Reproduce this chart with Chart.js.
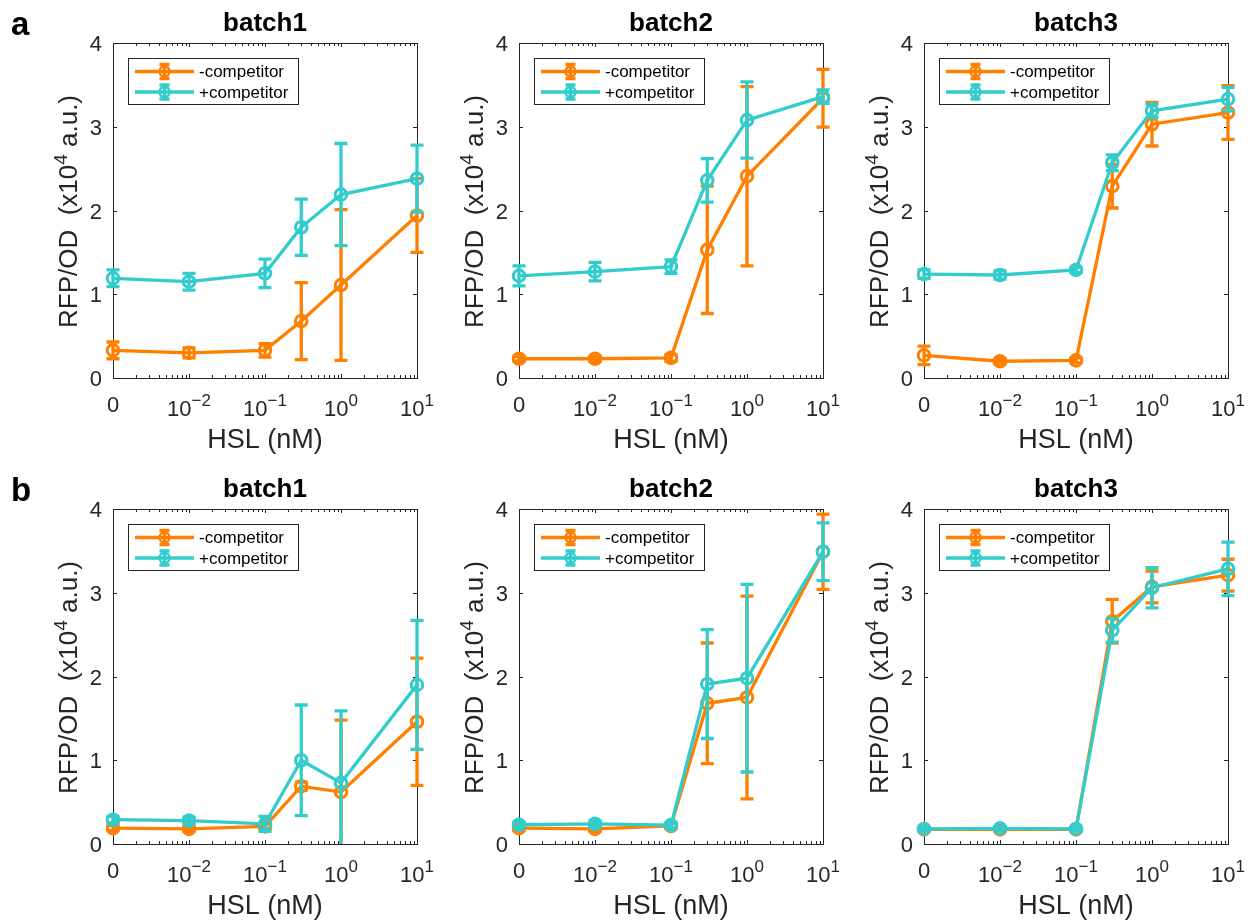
<!DOCTYPE html>
<html><head><meta charset="utf-8">
<script src="https://cdn.jsdelivr.net/npm/chart.js@4.4.1/dist/chart.umd.min.js"></script>
<style>
html,body{margin:0;padding:0;background:#fff;}
#wrap{position:relative;width:1248px;height:921px;overflow:hidden;background:#fff;}
#wrap canvas{position:absolute;}
</style></head><body><div id="wrap"></div>
<script>
// ---------- data ----------
const hsl = [0, 0.01, 0.1, 0.3, 1, 10];          // HSL concentration (nM); 0 is drawn at the 1e-3 slot
const xTickValues = [0, 0.01, 0.1, 1, 10];
const xTickBase = ['0', '10', '10', '10', '10'];
const xTickExp = ['', '\u22122', '\u22121', '0', '1'];
const yTickValues = [0, 1, 2, 3, 4];
const seriesNames = ['-competitor', '+competitor'];
const panelTitles = ['batch1', 'batch2', 'batch3'];
const panelLetters = ['a', 'b'];

// row a
const a1Minus = [0.33, 0.30, 0.33, 0.68, 1.11, 1.94];
const a1MinusErr = [0.10, 0.06, 0.08, 0.46, 0.90, 0.44];
const a1Plus = [1.19, 1.15, 1.25, 1.80, 2.19, 2.38];
const a1PlusErr = [0.10, 0.10, 0.17, 0.335, 0.61, 0.40];
const a2Minus = [0.23, 0.23, 0.24, 1.53, 2.41, 3.34];
const a2MinusErr = [0.03, 0.03, 0.04, 0.76, 1.07, 0.345];
const a2Plus = [1.22, 1.27, 1.33, 2.36, 3.08, 3.36];
const a2PlusErr = [0.12, 0.11, 0.08, 0.26, 0.455, 0.08];
const a3Minus = [0.27, 0.20, 0.21, 2.29, 3.03, 3.17];
const a3MinusErr = [0.11, 0.03, 0.03, 0.26, 0.26, 0.32];
const a3Plus = [1.24, 1.23, 1.29, 2.57, 3.19, 3.33];
const a3PlusErr = [0.05, 0.05, 0.03, 0.095, 0.08, 0.14];
// row b
const b1Minus = [0.19, 0.18, 0.21, 0.69, 0.62, 1.46];
const b1MinusErr = [0.03, 0.03, 0.03, 0.05, 0.86, 0.76];
const b1Plus = [0.29, 0.28, 0.24, 1.00, 0.73, 1.90];
const b1PlusErr = [0.04, 0.04, 0.09, 0.66, 0.86, 0.77];
const b2Minus = [0.19, 0.18, 0.215, 1.68, 1.75, 3.49];
const b2MinusErr = [0.03, 0.03, 0.03, 0.72, 1.21, 0.45];
const b2Plus = [0.23, 0.24, 0.225, 1.91, 1.98, 3.49];
const b2PlusErr = [0.03, 0.04, 0.03, 0.65, 1.12, 0.345];
const b3Minus = [0.175, 0.175, 0.175, 2.66, 3.07, 3.21];
const b3MinusErr = [0.02, 0.02, 0.02, 0.26, 0.19, 0.19];
const b3Plus = [0.18, 0.187, 0.18, 2.55, 3.06, 3.285];
const b3PlusErr = [0.02, 0.02, 0.02, 0.14, 0.24, 0.32];

const panels = [
  [[a1Minus, a1MinusErr, a1Plus, a1PlusErr], [a2Minus, a2MinusErr, a2Plus, a2PlusErr], [a3Minus, a3MinusErr, a3Plus, a3PlusErr]],
  [[b1Minus, b1MinusErr, b1Plus, b1PlusErr], [b2Minus, b2MinusErr, b2Plus, b2PlusErr], [b3Minus, b3MinusErr, b3Plus, b3PlusErr]]
];

// ---------- style ----------
const ZERO_POS = 0.001;
const ORANGE = 'rgb(255,128,0)';
const CYAN = 'rgb(51,204,204)';
const AXIS = '#262626';
const FONT = "'Liberation Sans', Arial, Helvetica, sans-serif";
const LW = 3.3;
Chart.defaults.font.family = FONT;

const colLeft = [0, 406, 811];
const rowTop = [0, 466];
const CW = 437, CH = 455;

function xPos(v) { return v === 0 ? ZERO_POS : v; }

const matlabPlugin = {
  id: 'matlab',
  beforeDatasetsDraw(chart) {
    const {ctx, chartArea: a, scales: {x, y}} = chart;
    ctx.save();
    ctx.strokeStyle = AXIS;
    ctx.lineWidth = 1;
    ctx.strokeRect(a.left + 0.5, a.top + 0.5, a.right - a.left, a.bottom - a.top);
    ctx.beginPath();
    yTickValues.forEach(v => {
      const py = Math.round(y.getPixelForValue(v)) + 0.5;
      ctx.moveTo(a.left, py); ctx.lineTo(a.left + 4, py);
      ctx.moveTo(a.right, py); ctx.lineTo(a.right - 4, py);
    });
    [ZERO_POS, 0.01, 0.1, 1, 10].forEach(v => {
      const px = Math.round(x.getPixelForValue(v)) + 0.5;
      ctx.moveTo(px, a.bottom); ctx.lineTo(px, a.bottom - 4);
      ctx.moveTo(px, a.top); ctx.lineTo(px, a.top + 4);
    });
    for (let k = -3; k <= 0; k++) {
      for (let m = 2; m <= 9; m++) {
        const px = Math.round(x.getPixelForValue(m * Math.pow(10, k))) + 0.5;
        ctx.moveTo(px, a.bottom); ctx.lineTo(px, a.bottom - 3);
        ctx.moveTo(px, a.top); ctx.lineTo(px, a.top + 3);
      }
    }
    ctx.stroke();
    ctx.restore();
  },
  afterDatasetDraw(chart, args) {
    const {ctx, chartArea: a, scales: {y}} = chart;
    const ds = chart.data.datasets[args.index];
    ctx.save();
    ctx.beginPath();
    ctx.rect(a.left - 40, a.top, a.right - a.left + 80, a.bottom - a.top);
    ctx.clip();
    ctx.strokeStyle = ds.borderColor;
    ctx.lineWidth = LW;
    ctx.beginPath();
    args.meta.data.forEach((pt, i) => {
      const v = ds.data[i].y, e = ds.err[i];
      const y1 = y.getPixelForValue(v + e), y2 = y.getPixelForValue(v - e);
      ctx.moveTo(pt.x, y1); ctx.lineTo(pt.x, y2);
      ctx.moveTo(pt.x - 6.5, y1); ctx.lineTo(pt.x + 6.5, y1);
      ctx.moveTo(pt.x - 6.5, y2); ctx.lineTo(pt.x + 6.5, y2);
    });
    ctx.stroke();
    ctx.restore();
  },
  afterDraw(chart, args, opts) {
    const {ctx, chartArea: a, scales: {x}} = chart;
    ctx.save();
    ctx.fillStyle = AXIS;
    ctx.textBaseline = 'alphabetic';
    // x tick labels with superscripts
    const BASE = '22px ' + FONT, EXP = '17px ' + FONT;
    xTickValues.forEach((v, i) => {
      const px = x.getPixelForValue(xPos(v));
      if (!xTickExp[i]) {
        ctx.font = BASE;
        ctx.textAlign = 'center';
        ctx.fillText(xTickBase[i], px, a.bottom + 34);
      } else {
        ctx.textAlign = 'left';
        ctx.font = BASE;
        const wb = ctx.measureText(xTickBase[i]).width;
        ctx.font = EXP;
        const we = ctx.measureText(xTickExp[i]).width;
        const start = px - (wb + we) / 2;
        ctx.font = BASE;
        ctx.fillText(xTickBase[i], start, a.bottom + 38);
        ctx.font = EXP;
        ctx.fillText(xTickExp[i], start + wb, a.bottom + 28);
      }
    });
    // y axis label with superscript
    ctx.save();
    ctx.translate(a.left - 36, (a.top + a.bottom) / 2 + 1);
    ctx.rotate(-Math.PI / 2);
    ctx.textAlign = 'left';
    const t1 = 'RFP/OD  (x10', t2 = '4', t3 = ' a.u.)';
    ctx.font = '26px ' + FONT; const w1 = ctx.measureText(t1).width; const w3 = ctx.measureText(t3).width;
    ctx.font = '19px ' + FONT; const w2 = ctx.measureText(t2).width;
    let sx = -(w1 + w2 + w3) / 2;
    ctx.font = '26px ' + FONT; ctx.fillText(t1, sx, 0);
    ctx.font = '19px ' + FONT; ctx.fillText(t2, sx + w1, -10);
    ctx.font = '26px ' + FONT; ctx.fillText(t3, sx + w1 + w2, 0);
    ctx.restore();
    // legend
    const lx = a.left + 15, ly = a.top + 15, lw = 170, lh = 46;
    ctx.fillStyle = '#fff';
    ctx.fillRect(lx, ly, lw, lh);
    ctx.strokeStyle = AXIS; ctx.lineWidth = 1;
    ctx.strokeRect(lx + 0.5, ly + 0.5, lw, lh);
    chart.data.datasets.forEach((ds, i) => {
      const ry = ly + 13.5 + i * 20.5;
      const cx = lx + 36.5;
      ctx.strokeStyle = ds.borderColor;
      ctx.lineWidth = LW;
      ctx.beginPath();
      ctx.moveTo(lx + 7, ry); ctx.lineTo(lx + 66, ry);
      ctx.moveTo(cx, ry - 7); ctx.lineTo(cx, ry + 7);
      ctx.moveTo(cx - 5, ry - 7); ctx.lineTo(cx + 5, ry - 7);
      ctx.moveTo(cx - 5, ry + 7); ctx.lineTo(cx + 5, ry + 7);
      ctx.stroke();
      ctx.lineWidth = 2.5;
      ctx.beginPath(); ctx.arc(cx, ry, 5, 0, Math.PI * 2); ctx.stroke();
      ctx.fillStyle = '#000';
      ctx.font = '17px ' + FONT;
      ctx.textAlign = 'left';
      ctx.textBaseline = 'middle';
      ctx.fillText(ds.label, lx + 71, ry + 1);
    });
    // panel letter
    if (opts.letter) {
      ctx.fillStyle = '#000';
      ctx.font = 'bold 33px ' + FONT;
      ctx.textAlign = 'left';
      ctx.textBaseline = 'alphabetic';
      ctx.fillText(opts.letter, 11, 35);
    }
    ctx.restore();
  }
};

function makeDataset(label, vals, errs, color, order) {
  return {
    label: label,
    data: hsl.map((h, i) => ({x: xPos(h), y: vals[i]})),
    err: errs,
    borderColor: color,
    backgroundColor: 'rgba(0,0,0,0)',
    pointBackgroundColor: 'rgba(0,0,0,0)',
    pointBorderColor: color,
    pointRadius: 5.8,
    pointHoverRadius: 5.8,
    pointBorderWidth: 3,
    borderWidth: LW,
    tension: 0,
    fill: false,
    clip: false,
    order: order
  };
}

const wrap = document.getElementById('wrap');
for (let r = 0; r < 2; r++) {
  for (let c = 0; c < 3; c++) {
    const [mv, me, pv, pe] = panels[r][c];
    const canvas = document.createElement('canvas');
    canvas.width = CW; canvas.height = CH;
    canvas.style.width = CW + 'px'; canvas.style.height = CH + 'px';
    canvas.style.left = colLeft[c] + 'px';
    canvas.style.top = rowTop[r] + 'px';
    wrap.appendChild(canvas);
    new Chart(canvas, {
      type: 'line',
      data: {
        datasets: [
          makeDataset(seriesNames[0], mv, me, ORANGE, 2),
          makeDataset(seriesNames[1], pv, pe, CYAN, 1)
        ]
      },
      options: {
        responsive: false,
        animation: false,
        devicePixelRatio: 1,
        events: [],
        layout: {padding: {left: 0, right: 20, top: 0, bottom: 0}},
        scales: {
          x: {
            type: 'logarithmic',
            min: ZERO_POS, max: 10,
            afterFit: s => { s.height = 77; },
            ticks: {display: false},
            grid: {display: false},
            border: {display: false},
            title: {display: true, text: 'HSL (nM)', color: AXIS,
                    font: {size: 27, lineHeight: 1}, padding: {top: 0, bottom: 1}}
          },
          y: {
            min: 0, max: 4,
            afterFit: s => { s.width = 113; },
            ticks: {stepSize: 1, color: AXIS, font: {size: 22}, padding: 11, labelOffset: 2},
            grid: {display: false, drawTicks: false},
            border: {display: false}
          }
        },
        plugins: {
          legend: {display: false},
          tooltip: {enabled: false},
          title: {display: true, text: panelTitles[c], fullSize: false, color: '#000',
                  font: {size: 26, weight: 'bold', lineHeight: 1.2}, padding: {top: 8.7, bottom: 3.1}},
          matlab: {letter: c === 0 ? panelLetters[r] : ''}
        }
      },
      plugins: [matlabPlugin]
    });
  }
}
</script>
</body></html>
